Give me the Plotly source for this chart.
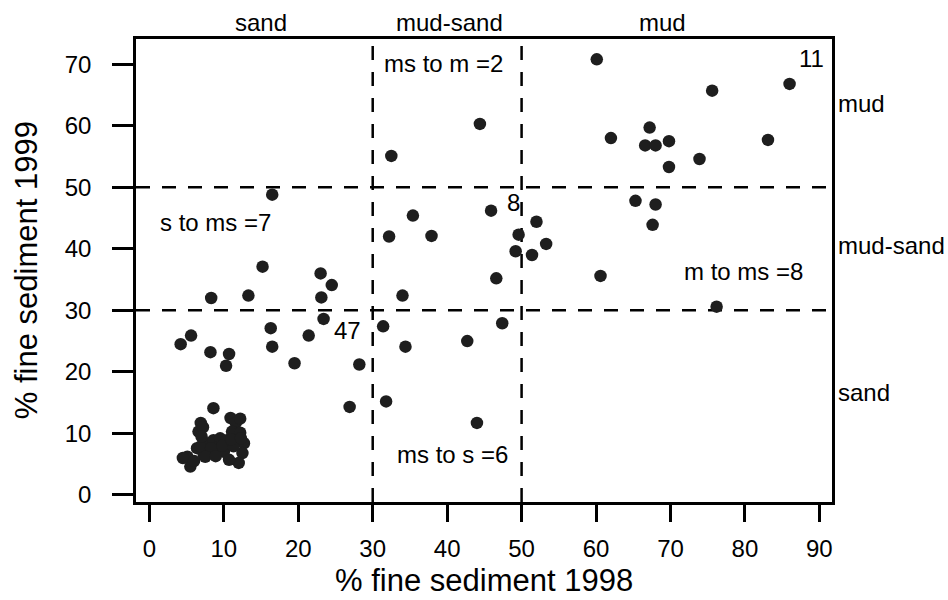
import plotly.graph_objects as go

# ---- data ----
x_sand_sand = [23.4, 16.3, 16.5, 21.4, 19.5, 28.2, 26.9, 4.2, 5.6, 8.2, 10.7, 10.3, 8.6,
               6.9, 6.6, 7.2, 10.9, 11.6, 12.2, 11.1, 12.2, 12.7, 12.5, 12.0, 5.1, 5.5, 4.5,
               6.4, 7.7, 8.6, 9.5, 10.4, 9.1, 8.2, 10.0, 10.7, 7.3, 6.0, 6.9, 8.3, 9.8, 11.3,
               7.5, 8.9, 11.0, 7.0, 12.3]
y_sand_sand = [28.6, 27.1, 24.1, 25.9, 21.4, 21.2, 14.3, 24.5, 25.9, 23.2, 22.9, 21.0, 14.1,
               11.7, 10.3, 11.0, 12.5, 11.7, 12.4, 10.3, 10.1, 8.4, 6.8, 5.2, 6.2, 4.6, 6.0,
               7.6, 8.4, 8.9, 9.2, 8.9, 7.3, 6.8, 7.0, 5.7, 6.5, 5.5, 7.9, 7.6, 8.0, 7.9,
               6.2, 6.3, 9.0, 9.5, 9.2]

x_s_to_ms = [16.5, 15.2, 8.3, 13.3, 23.0, 24.5, 23.1]
y_s_to_ms = [48.8, 37.1, 32.0, 32.4, 36.0, 34.1, 32.1]

x_ms_to_m = [32.5, 44.4]
y_ms_to_m = [55.1, 60.3]

x_ms_ms = [35.4, 45.9, 32.2, 37.9, 49.6, 49.2, 46.6, 34.0]
y_ms_ms = [45.4, 46.2, 42.0, 42.1, 42.3, 39.6, 35.2, 32.4]

x_ms_to_s = [31.4, 47.4, 34.4, 42.7, 31.8, 44.0]
y_ms_to_s = [27.4, 27.9, 24.1, 25.0, 15.2, 11.7]

x_mud_mud = [60.1, 62.0, 75.6, 86.0, 67.2, 66.6, 68.0, 69.8, 83.1, 73.9, 69.8]
y_mud_mud = [70.8, 58.0, 65.7, 66.8, 59.7, 56.8, 56.8, 57.5, 57.7, 54.6, 53.3]

x_m_to_ms = [52.0, 51.4, 53.3, 60.6, 65.3, 68.0, 67.6, 76.2]
y_m_to_ms = [44.4, 39.0, 40.8, 35.6, 47.8, 47.2, 43.9, 30.6]

x_ticks = [0, 10, 20, 30, 40, 50, 60, 70, 80, 90]
y_ticks = [0, 10, 20, 30, 40, 50, 60, 70]
class_limits = [30, 50]

top_labels = ["sand", "mud-sand", "mud"]
top_label_x = [15, 40.3, 68.9]
right_labels = ["mud", "mud-sand", "sand"]
right_label_y = [63.6, 40.5, 16.6]

FONT = "Arial, 'Liberation Sans', Helvetica, sans-serif"
FS = 24

xs = (x_sand_sand + x_s_to_ms + x_ms_to_m + x_ms_ms + x_ms_to_s + x_mud_mud + x_m_to_ms)
ys = (y_sand_sand + y_s_to_ms + y_ms_to_m + y_ms_ms + y_ms_to_s + y_mud_mud + y_m_to_ms)

fig = go.Figure()
fig.add_trace(go.Scatter(
    x=xs, y=ys, mode="markers",
    marker=dict(symbol="circle", size=12.5, color="#1e1e1e", line=dict(width=0)),
    showlegend=False, hoverinfo="skip"))

shapes = []
for v in class_limits:
    shapes.append(dict(type="line", xref="x", yref="paper", x0=v, x1=v, y0=0, y1=1,
                       line=dict(color="black", width=2.5, dash="14px,12px"), layer="below"))
    shapes.append(dict(type="line", xref="paper", yref="y", x0=0, x1=1, y0=v, y1=v,
                       line=dict(color="black", width=2.5, dash="14px,12px"), layer="below"))

ann = []
for t, xv in zip(top_labels, top_label_x):
    ann.append(dict(text=t, x=xv, xref="x", y=1.0346, yref="paper", showarrow=False,
                    xanchor="center", yanchor="middle", font=dict(size=FS)))
for t, yv in zip(right_labels, right_label_y):
    ann.append(dict(text=t, x=1.006, xref="paper", y=yv, yref="y", showarrow=False,
                    xanchor="left", yanchor="middle", font=dict(size=FS)))

inner = [
    ("ms to m =2", 31.3, 70.2, "left"),
    ("s to ms =7", 1.1, 44.2, "left"),
    ("47", 28.7, 26.8, "right"),
    ("8", 48.9, 47.6, "center"),
    ("11", 89.0, 70.9, "center"),
    ("m to ms =8", 88.1, 36.3, "right"),
    ("ms to s =6", 33.0, 6.5, "left"),
]
for t, xv, yv, xa in inner:
    ann.append(dict(text=t, x=xv, y=yv, xref="x", yref="y", showarrow=False,
                    xanchor=xa, yanchor="middle", font=dict(size=FS)))

ann.append(dict(text="% fine sediment 1998", x=0.5, xref="paper", y=-0.1685, yref="paper",
                showarrow=False, xanchor="center", yanchor="middle", font=dict(size=31)))
ann.append(dict(text="% fine sediment 1999", x=-0.157, xref="paper", y=0.5, yref="paper",
                showarrow=False, xanchor="center", yanchor="middle", textangle=-90,
                font=dict(size=31)))

fig.update_layout(
    width=948, height=600,
    margin=dict(l=136, r=116, t=39, b=98, pad=0),
    paper_bgcolor="white", plot_bgcolor="white",
    font=dict(family=FONT, color="black", size=FS),
    shapes=shapes, annotations=ann,
    xaxis=dict(range=[-1.8, 91.7], tickvals=x_ticks, ticktext=[str(v) for v in x_ticks],
               showgrid=False, zeroline=False, showline=True, mirror=True,
               linecolor="black", linewidth=2.5, ticks="outside", ticklen=17,
               tickwidth=2.5, tickcolor="black", ticklabelstandoff=6,
               tickfont=dict(size=FS)),
    yaxis=dict(range=[-1.15, 74.1], tickvals=y_ticks, ticktext=[str(v) for v in y_ticks],
               showgrid=False, zeroline=False, showline=True, mirror=True,
               linecolor="black", linewidth=2.5, ticks="outside", ticklen=21,
               tickwidth=2.5, tickcolor="black", ticklabelstandoff=16,
               tickfont=dict(size=FS)),
)

fig.write_html("out.html")
